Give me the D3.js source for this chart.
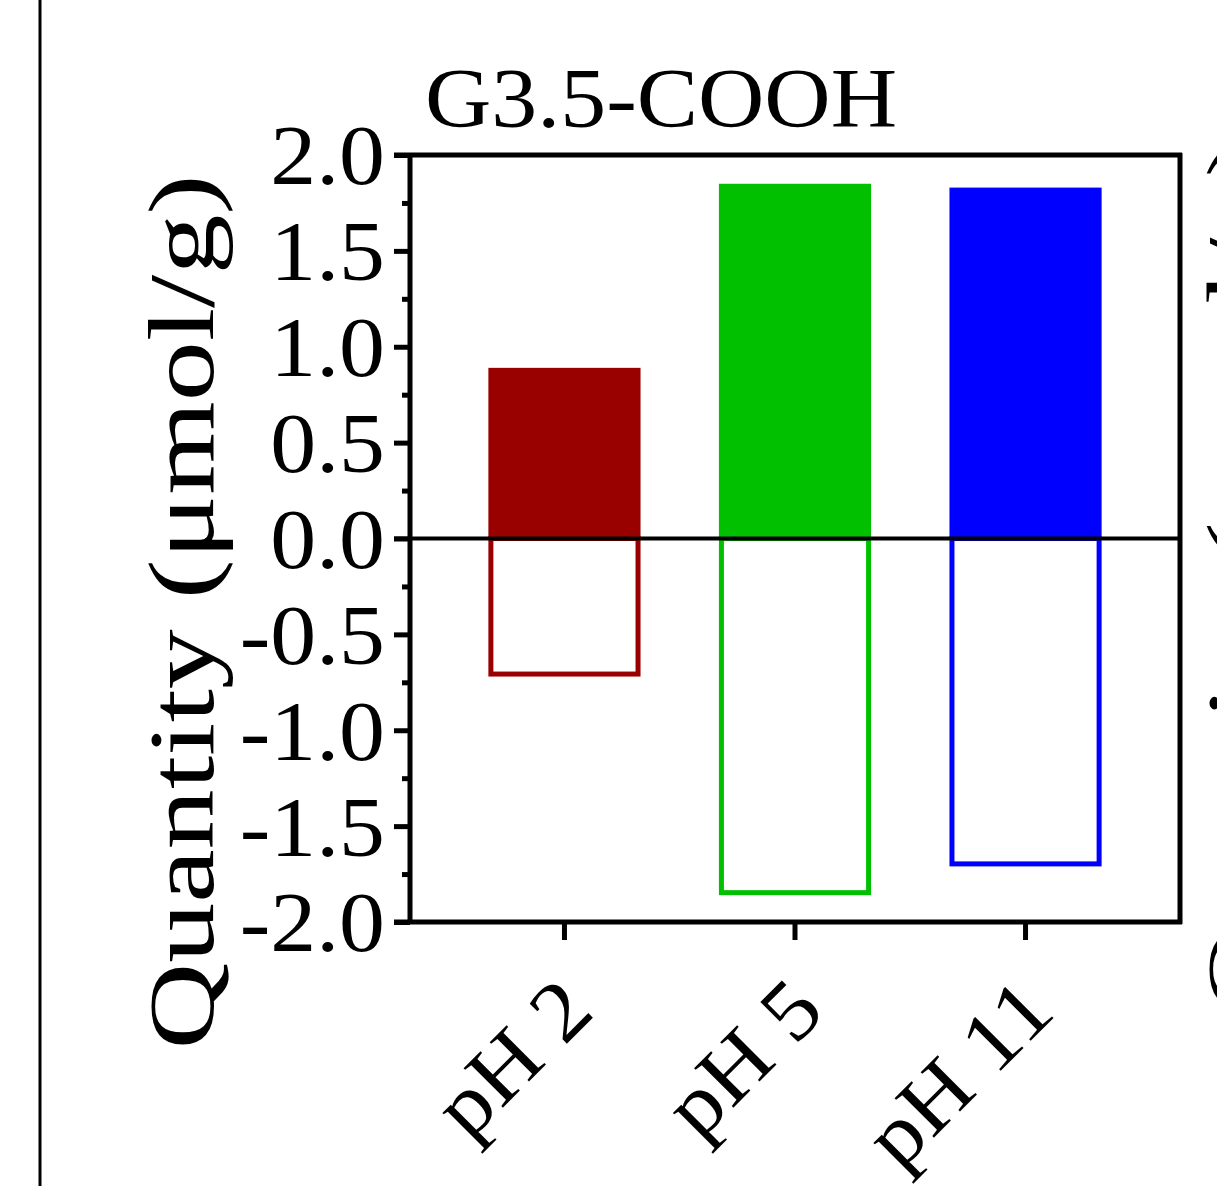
<!DOCTYPE html>
<html>
<head>
<meta charset="utf-8">
<script src="https://cdn.jsdelivr.net/npm/d3@7"></script>
<style>
  html, body { margin: 0; padding: 0; background: #fff; }
  svg { display: block; }
  text { font-family: "Liberation Serif", "Times New Roman", serif; fill: #000; }
</style>
</head>
<body>
<svg id="chart" width="1217" height="1186"></svg>
<script>
// ---- data ----
const categories = ["pH 2", "pH 5", "pH 11"];
const positiveValues = [0.89, 1.85, 1.83];
const negativeValues = [-0.72, -1.86, -1.71];
const barColors = ["#990000", "#00C000", "#0000FF"];
const yTickValues = [-2.0, -1.5, -1.0, -0.5, 0.0, 0.5, 1.0, 1.5, 2.0];
const yMinorTickValues = [-1.75, -1.25, -0.75, -0.25, 0.25, 0.75, 1.25, 1.75];
const chartTitle = "G3.5-COOH";
const yAxisTitle = "Quantity (\u03bcmol/g)";

// ---- layout ----
const svg = d3.select("#chart");
const pLeft = 410, pRight = 1180, pTop = 155, pBottom = 922;
const lw = 5;

const x = d3.scaleBand().domain(categories).range([pLeft, pRight]).padding(0.34);
const y = d3.scaleLinear().domain([-2, 2]).range([pBottom, pTop]);

function widen(sel, factor) {
  sel.each(function () {
    const len = this.getComputedTextLength();
    d3.select(this).attr("textLength", len * factor).attr("lengthAdjust", "spacingAndGlyphs");
  });
}

// left neighbour panel border line
svg.append("line").attr("x1", 40).attr("x2", 40).attr("y1", 0).attr("y2", 1186)
  .attr("stroke", "#000").attr("stroke-width", 3);

// fragment of next panel's y title (clipped at the right edge)
svg.append("text")
  .attr("transform", `translate(1270,575) rotate(-90)`)
  .attr("text-anchor", "middle")
  .attr("font-size", 92)
  .attr("textLength", 875).attr("lengthAdjust", "spacingAndGlyphs")
  .text(yAxisTitle);

// bars: positive (filled)
svg.append("g").selectAll("rect").data(categories).join("rect")
  .attr("x", d => x(d))
  .attr("width", x.bandwidth())
  .attr("y", (d, i) => y(positiveValues[i]))
  .attr("height", (d, i) => y(0) - y(positiveValues[i]))
  .attr("fill", (d, i) => barColors[i]);

// bars: negative (outlined)
const sw = 5;
svg.append("g").selectAll("rect").data(categories).join("rect")
  .attr("x", d => x(d) + sw / 2)
  .attr("width", x.bandwidth() - sw)
  .attr("y", y(0))
  .attr("height", (d, i) => y(negativeValues[i]) - y(0) - sw / 2)
  .attr("fill", "none")
  .attr("stroke", (d, i) => barColors[i])
  .attr("stroke-width", sw);

// Y axis (major)
const yAxis = d3.axisLeft(y).tickValues(yTickValues).tickSize(16).tickPadding(9)
  .tickFormat(d3.format(".1f"));
const gy = svg.append("g").attr("transform", `translate(${pLeft},0)`).call(yAxis);
gy.select(".domain").remove();
gy.selectAll(".tick line").attr("stroke-width", lw).attr("stroke", "#000");
gy.selectAll(".tick text").attr("font-size", 85).attr("dy", "0.34em")
  .attr("font-family", "Liberation Serif").attr("fill", "#000")
  .text(d => d3.format(".1f")(d).replace("\u2212", "-"));
widen(gy.selectAll(".tick text"), 1.08);

// Y axis minor ticks
const yMinor = d3.axisLeft(y).tickValues(yMinorTickValues).tickSize(8).tickFormat("");
const gym = svg.append("g").attr("transform", `translate(${pLeft},0)`).call(yMinor);
gym.select(".domain").remove();
gym.selectAll(".tick line").attr("stroke-width", lw).attr("stroke", "#000");

// X axis
const xAxis = d3.axisBottom(x).tickSize(18).tickFormat("");
const gx = svg.append("g").attr("transform", `translate(0,${pBottom})`).call(xAxis);
gx.select(".domain").remove();
gx.selectAll(".tick line").attr("stroke-width", lw).attr("stroke", "#000");

// X labels rotated
const xl = svg.append("g").selectAll("text").data(categories).join("text")
  .attr("transform", d => `translate(${x(d) + x.bandwidth() / 2 + 32},${pBottom + 92}) rotate(-45)`)
  .attr("text-anchor", "end")
  .attr("font-size", 85)
  .text(d => d);
widen(xl, 1.08);

// frame lines
const frame = svg.append("g").attr("stroke", "#000").attr("stroke-width", lw).attr("fill", "none");
frame.append("line").attr("x1", pLeft).attr("x2", pLeft).attr("y1", pTop - 2).attr("y2", pBottom + 2);
frame.append("line").attr("x1", pLeft - 16).attr("x2", pRight + 2).attr("y1", pTop).attr("y2", pTop);
frame.append("line").attr("x1", pRight).attr("x2", pRight).attr("y1", pTop - 2).attr("y2", pBottom + 2);
frame.append("line").attr("x1", pLeft - 16).attr("x2", pRight + 2).attr("y1", pBottom).attr("y2", pBottom);
// zero line
frame.append("line").attr("x1", pLeft - 16).attr("x2", pRight).attr("y1", y(0)).attr("y2", y(0))
  .attr("stroke-width", 4);

// title
svg.append("text").attr("x", 425).attr("y", 127).attr("font-size", 84)
  .attr("textLength", 472).attr("lengthAdjust", "spacingAndGlyphs")
  .text(chartTitle);

// y axis title
svg.append("text")
  .attr("transform", `translate(213,612) rotate(-90)`)
  .attr("text-anchor", "middle")
  .attr("font-size", 93)
  .attr("textLength", 875).attr("lengthAdjust", "spacingAndGlyphs")
  .text(yAxisTitle);
</script>
</body>
</html>
